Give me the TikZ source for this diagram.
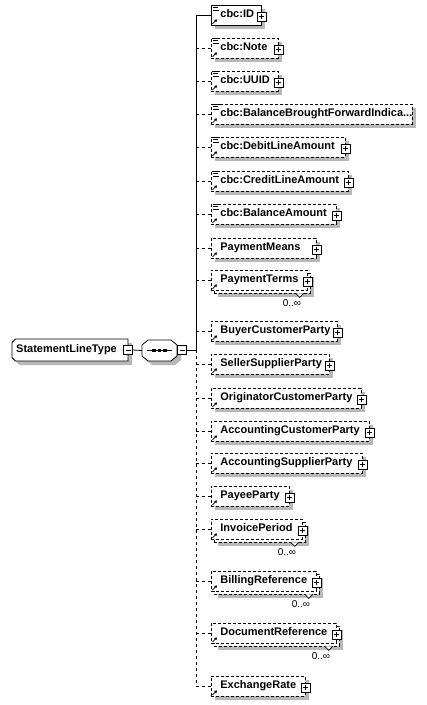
\documentclass[tikz,border=0pt]{standalone}
\usepackage{fontspec}
\setmainfont{Liberation Sans}
\usetikzlibrary{arrows.meta}
\definecolor{shgray}{RGB}{184,184,184}
\tikzset{
  elem/.style={draw, fill=white, rectangle, inner sep=0pt, minimum height=20pt, anchor=west,
    font=\bfseries\fontsize{11}{13}\selectfont, text height=8pt, text depth=2.5pt, line width=0.8pt},
  opt/.style={dash pattern=on 3pt off 2pt},
  conn/.style={line width=0.8pt},
  optconn/.style={conn, dash pattern=on 3pt off 3pt},
  plusbox/.style={draw, fill=white, solid, line width=0.7pt, minimum size=9pt, inner sep=0pt,
    path picture={\draw[line width=0.7pt] ([xshift=2pt]path picture bounding box.west) -- ([xshift=-2pt]path picture bounding box.east)
      ([yshift=2pt]path picture bounding box.south) -- ([yshift=-2pt]path picture bounding box.north);}},
  minusbox/.style={draw, fill=white, solid, line width=0.7pt, minimum size=9pt, inner sep=0pt,
    path picture={\draw[line width=0.7pt] ([xshift=2pt]path picture bounding box.west) -- ([xshift=-2pt]path picture bounding box.east);}},
  mult/.style={font=\fontsize{10}{12}\selectfont, inner sep=0pt},
  icon/.style={line width=0.7pt},
  outline/.style={line width=0.8pt},
  shadowfill/.style={fill=shgray, draw=none},
}
\newcommand\el[5]{%
  \fill[shadowfill] (215,#2-6) rectangle (#3+4,#2+14);
  \node[elem,#4] (#1) at (211,#2) {\makebox[\dimexpr #3pt-211pt\relax][l]{\hspace{9pt}#5}};}
\newcommand\elf[5]{%
  \node[elem,#4] (#1) at (211,#2) {\makebox[\dimexpr #3pt-211pt\relax][l]{\hspace{9pt}#5}};}
\newcommand\pl[1]{\node[plusbox] (#1-p) at ([yshift=-1.5pt]#1.east) {};}
\newcommand\cbcicon[1]{%
  \draw[icon] ([xshift=2pt,yshift=-0.5pt]#1.north west) -- ++(7pt,0);
  \draw[icon] ([xshift=2pt,yshift=-3pt]#1.north west) -- ++(5pt,0);
  \draw[icon] ([xshift=2pt,yshift=-5.5pt]#1.north west) -- ++(6pt,0);}
\newcommand\refarrow[1]{%
  \draw[line width=0.8pt,-{Triangle[length=2.5pt,width=3pt]}] ([xshift=1.5pt,yshift=1.5pt]#1.south west) -- ++(4.5pt,4.5pt);}
\newcommand\back[3]{%
  \fill[shadowfill] (218,#2-3) rectangle (#3+7,#2+17);
  \node[elem,opt] (#1-b) at (214,#2+3) {\makebox[\dimexpr #3pt-211pt\relax][l]{}};}
\newcommand\chev[3]{%
  \draw[icon,fill=white] ([xshift=-15pt]#1-b.south east) -- ++(4pt,-4pt) -- ++(4pt,4pt);
  \node[mult] (#1-m) at (#3-15,#2+23) {0..∞};}
\newcommand\sltpoly[2]{(15.5+#1,339+#2) -- (128+#1,339+#2) -- (128+#1,361+#2) -- (15.5+#1,361+#2)
  -- (12+#1,357.5+#2) -- (12+#1,342.5+#2) -- cycle}
\newcommand\seqpoly[2]{(148+#1,340+#2) -- (171+#1,340+#2) -- (177+#1,345+#2) -- (177+#1,356+#2)
  -- (171+#1,361+#2) -- (148+#1,361+#2) -- (142+#1,356+#2) -- (142+#1,345+#2) -- cycle}
\begin{document}
\begin{tikzpicture}[x=1pt,y=-1pt]
\fill[white] (0,0) rectangle (427,705);
\useasboundingbox (0,0) rectangle (427,705);

% top level type
\fill[shadowfill] \sltpoly{4}{4};
\filldraw[outline, fill=white] \sltpoly{0}{0};
\node[rectangle, inner sep=0pt, minimum height=22pt, anchor=west,
  font=\bfseries\fontsize{11}{13}\selectfont, text height=8pt, text depth=2.5pt]
  (slt) at (12,350) {\makebox[116pt][l]{\hspace{4pt}StatementLineType}};
\node[minusbox] (slt-m) at (128,350) {};

% sequence compositor
\fill[shadowfill] \seqpoly{4}{4};
\filldraw[outline, fill=white] \seqpoly{0}{0};
\node[rectangle, inner sep=0pt, minimum width=35pt, minimum height=21pt] (seq) at (159.5,350.5) {};
\draw[line width=0.8pt] ([xshift=-12.5pt]seq.center) -- ([xshift=12.5pt]seq.center);
\foreach \dx in {-5.5,0,5.5}
  \fill ([xshift=\dx pt-1.75pt,yshift=-1.75pt]seq.center) rectangle ++(3.5pt,3.5pt);
\node[minusbox] (seq-m) at (182,350) {};
\coordinate (tk) at (196,350);
\draw[conn] (slt-m.east) -- (seq.west);
\draw[conn] (seq-m.east) -- (tk);

% elements
\el{id}{15}{261}{}{cbc:ID}\cbcicon{id}\refarrow{id}\pl{id}
\el{note}{48}{278}{opt}{cbc:Note}\cbcicon{note}\refarrow{note}\pl{note}
\el{uuid}{81}{278}{opt}{cbc:UUID}\cbcicon{uuid}\refarrow{uuid}\pl{uuid}
\el{bbfi}{114}{412}{opt}{cbc:BalanceBroughtForwardIndica...}\cbcicon{bbfi}\refarrow{bbfi}
\el{debit}{147}{345}{opt}{cbc:DebitLineAmount}\cbcicon{debit}\refarrow{debit}\pl{debit}
\el{credit}{181}{348}{opt}{cbc:CreditLineAmount}\cbcicon{credit}\refarrow{credit}\pl{credit}
\el{bal}{214}{336}{opt}{cbc:BalanceAmount}\cbcicon{bal}\refarrow{bal}\pl{bal}
\el{pm}{248}{316}{opt}{PaymentMeans}\refarrow{pm}\pl{pm}
\back{pt}{280}{307}\elf{pt}{280}{307}{opt}{PaymentTerms}\refarrow{pt}\pl{pt}\chev{pt}{280}{307}
\el{buyer}{331}{337}{opt}{BuyerCustomerParty}\refarrow{buyer}\pl{buyer}
\el{seller}{364}{329}{opt}{SellerSupplierParty}\refarrow{seller}\pl{seller}
\el{orig}{398}{361}{opt}{OriginatorCustomerParty}\refarrow{orig}\pl{orig}
\el{acust}{431}{369}{opt}{AccountingCustomerParty}\refarrow{acust}\pl{acust}
\el{asupp}{463}{362}{opt}{AccountingSupplierParty}\refarrow{asupp}\pl{asupp}
\el{payee}{496}{289}{opt}{PayeeParty}\refarrow{payee}\pl{payee}
\back{inv}{529}{302}\elf{inv}{529}{302}{opt}{InvoicePeriod}\refarrow{inv}\pl{inv}\chev{inv}{529}{302}
\back{bill}{581}{316}\elf{bill}{581}{316}{opt}{BillingReference}\refarrow{bill}\pl{bill}\chev{bill}{581}{316}
\back{doc}{633}{336}\elf{doc}{633}{336}{opt}{DocumentReference}\refarrow{doc}\pl{doc}\chev{doc}{633}{336}
\el{exch}{686}{305}{opt}{ExchangeRate}\refarrow{exch}\pl{exch}

% connectors
\draw[conn] (tk) -- (id.west -| tk) -- (id.west);
\draw[optconn] (tk) -- (exch.west -| tk) -- (exch.west);
\foreach \n in {note,uuid,bbfi,debit,credit,bal,pm,pt,buyer,seller,orig,acust,asupp,payee,inv,bill,doc}
  \draw[optconn] (\n.west -| tk) -- (\n.west);
\end{tikzpicture}
\end{document}
